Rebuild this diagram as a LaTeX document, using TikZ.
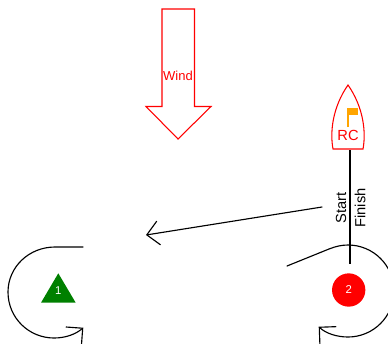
\documentclass[tikz,border=0pt]{standalone}
\usepackage{fontspec}
\setmainfont{Liberation Sans}
\usetikzlibrary{arrows.meta}
\definecolor{flagorange}{RGB}{255,165,0}
\definecolor{markgreen}{RGB}{0,128,0}
\tikzset{
    course/.style={draw=black,line width=0.85pt,line cap=round,-{Straight Barb[length=9pt,width=18pt,line width=0.85pt]}},
    outline/.style={draw=red,line width=0.8pt,line join=miter},
    marklabel/.style={text=white,font=\fontsize{8.5}{10}\selectfont,inner sep=0pt},
    redlabel/.style={text=red,inner sep=0pt},
    sidelabel/.style={text=black,rotate=90,inner sep=0pt,font=\fontsize{11}{13}\selectfont}
}
\begin{document}
\begin{tikzpicture}[x=0.75pt,y=-0.75pt]
    \clip (0,0) rectangle (388,343);
    % wind arrow
    \path[outline] (162,9) -- (194.5,9) -- (194.5,106.5) -- (211,106.5) -- (178,139) -- (146,106.5) -- (162,106.5) -- cycle;
    \node[redlabel,font=\fontsize{9.75}{12}\selectfont] (Wind) at (178,76) {Wind};
    % committee boat
    \path[outline] (333,149) .. controls (330,133) and (332,108) .. (348,85) .. controls (364,108) and (366,133) .. (363,149) -- cycle;
    \draw[flagorange,line width=1.5pt] (348,127) -- (348,108);
    \fill[flagorange] (348,107.5) rectangle (358,114.5);
    \node[redlabel,font=\fontsize{11}{13}\selectfont] (RC) at (348,135.5) {RC};
    % start and finish line
    \coordinate (BoatEnd) at (350,150);
    \coordinate (LineEnd) at (350,264);
    \draw[black,line width=0.8pt] (BoatEnd) -- (LineEnd);
    \node[sidelabel] (Start) at (341,208) {Start};
    \node[sidelabel] (Finish) at (360,208) {Finish};
    % course to mark 1
    \coordinate (LegFrom) at (322,207);
    \coordinate (LegTo) at (146,235);
    \path[course] (LegFrom) -- (LegTo);
    % mark 1
    \fill[markgreen] (58.3,273.3) -- (75.7,302.7) -- (41,302.7) -- cycle;
    \node[marklabel] (One) at (58.3,291) {1};
    \coordinate (OneIn) at (83,247);
    \coordinate (OneOut) at (83.3,327.7);
    \path[course] (OneIn) -- (55,247) .. controls (29,247) and (8,267) .. (8,292) .. controls (8,318) and (29,338) .. (54,338) .. controls (66,338) and (76,334) .. (OneOut);
    % mark 2
    \node[circle,fill=red,minimum size=25pt,inner sep=0pt,marklabel] (Two) at (348.7,290) {2};
    \coordinate (TwoIn) at (287,266);
    \coordinate (TwoOut) at (318.7,326.7);
    \path[course] (TwoIn) -- (329,249) .. controls (336,246.2) and (342,245) .. (348,245) .. controls (373.4,245) and (394,265.6) .. (394,291) .. controls (394,316.4) and (373.4,337) .. (348,337) .. controls (337,337) and (326,333.5) .. (TwoOut);
\end{tikzpicture}
\end{document}
